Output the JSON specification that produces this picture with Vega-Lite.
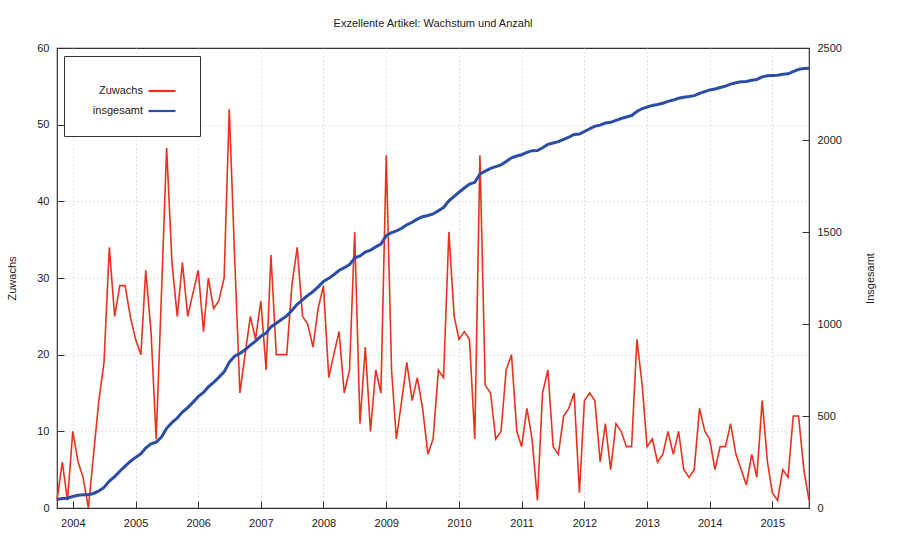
{
  "$schema": "https://vega.github.io/schema/vega-lite/v6.json",
  "width": 752,
  "height": 460,
  "autosize": "none",
  "padding": {"left": 57, "top": 48, "right": 91, "bottom": 32},
  "background": "white",
  "config": {
    "font": "Liberation Sans",
    "view": {"stroke": "#333", "strokeWidth": 1.2},
    "axis": {"labelFontSize": 11, "labelColor": "#222", "titleFontSize": 11, "titleFontWeight": "normal", "titleColor": "#222", "tickColor": "#333", "domain": false}
  },
  "title": {"text": "Exzellente Artikel: Wachstum und Anzahl", "fontSize": 11, "fontWeight": "normal", "color": "#222", "offset": 13, "anchor": "middle"},
  "data": {"values": [
    {"d":"2003-10-01T00:00","z":1,"g":46},{"d":"2003-11-01T00:00","z":6,"g":52},{"d":"2003-12-01T00:00","z":1,"g":53},
    {"d":"2004-01-01T00:00","z":10,"g":63},{"d":"2004-02-01T00:00","z":6,"g":69},{"d":"2004-03-01T00:00","z":4,"g":72},{"d":"2004-04-01T00:00","z":0,"g":72},{"d":"2004-05-01T00:00","z":7,"g":79},{"d":"2004-06-01T00:00","z":14,"g":93},{"d":"2004-07-01T00:00","z":19,"g":112},{"d":"2004-08-01T00:00","z":34,"g":146},{"d":"2004-09-01T00:00","z":25,"g":171},{"d":"2004-10-01T00:00","z":29,"g":200},{"d":"2004-11-01T00:00","z":29,"g":228},{"d":"2004-12-01T00:00","z":25,"g":253},
    {"d":"2005-01-01T00:00","z":22,"g":275},{"d":"2005-02-01T00:00","z":20,"g":295},{"d":"2005-03-01T00:00","z":31,"g":326},{"d":"2005-04-01T00:00","z":23,"g":349},{"d":"2005-05-01T00:00","z":9,"g":358},{"d":"2005-06-01T00:00","z":28,"g":386},{"d":"2005-07-01T00:00","z":47,"g":433},{"d":"2005-08-01T00:00","z":32,"g":464},{"d":"2005-09-01T00:00","z":25,"g":489},{"d":"2005-10-01T00:00","z":32,"g":521},{"d":"2005-11-01T00:00","z":25,"g":546},{"d":"2005-12-01T00:00","z":28,"g":574},
    {"d":"2006-01-01T00:00","z":31,"g":605},{"d":"2006-02-01T00:00","z":23,"g":628},{"d":"2006-03-01T00:00","z":30,"g":658},{"d":"2006-04-01T00:00","z":26,"g":683},{"d":"2006-05-01T00:00","z":27,"g":710},{"d":"2006-06-01T00:00","z":30,"g":740},{"d":"2006-07-01T00:00","z":52,"g":792},{"d":"2006-08-01T00:00","z":33,"g":825},{"d":"2006-09-01T00:00","z":15,"g":840},{"d":"2006-10-01T00:00","z":20,"g":860},{"d":"2006-11-01T00:00","z":25,"g":885},{"d":"2006-12-01T00:00","z":22,"g":907},
    {"d":"2007-01-01T00:00","z":27,"g":933},{"d":"2007-02-01T00:00","z":18,"g":951},{"d":"2007-03-01T00:00","z":33,"g":984},{"d":"2007-04-01T00:00","z":20,"g":1004},{"d":"2007-05-01T00:00","z":20,"g":1024},{"d":"2007-06-01T00:00","z":20,"g":1044},{"d":"2007-07-01T00:00","z":29,"g":1073},{"d":"2007-08-01T00:00","z":34,"g":1107},{"d":"2007-09-01T00:00","z":25,"g":1131},{"d":"2007-10-01T00:00","z":24,"g":1155},{"d":"2007-11-01T00:00","z":21,"g":1176},{"d":"2007-12-01T00:00","z":26,"g":1202},
    {"d":"2008-01-01T00:00","z":29,"g":1231},{"d":"2008-02-01T00:00","z":17,"g":1248},{"d":"2008-03-01T00:00","z":20,"g":1268},{"d":"2008-04-01T00:00","z":23,"g":1291},{"d":"2008-05-01T00:00","z":15,"g":1306},{"d":"2008-06-01T00:00","z":18,"g":1323},{"d":"2008-07-01T00:00","z":36,"g":1359},{"d":"2008-08-01T00:00","z":11,"g":1370},{"d":"2008-09-01T00:00","z":21,"g":1391},{"d":"2008-10-01T00:00","z":10,"g":1401},{"d":"2008-11-01T00:00","z":18,"g":1419},{"d":"2008-12-01T00:00","z":15,"g":1434},
    {"d":"2009-01-01T00:00","z":46,"g":1480},{"d":"2009-02-01T00:00","z":18,"g":1497},{"d":"2009-03-01T00:00","z":9,"g":1506},{"d":"2009-04-01T00:00","z":14,"g":1520},{"d":"2009-05-01T00:00","z":19,"g":1539},{"d":"2009-06-01T00:00","z":14,"g":1553},{"d":"2009-07-01T00:00","z":17,"g":1570},{"d":"2009-08-01T00:00","z":13,"g":1583},{"d":"2009-09-01T00:00","z":7,"g":1590},{"d":"2009-10-01T00:00","z":9,"g":1598},{"d":"2009-11-01T00:00","z":18,"g":1616},{"d":"2009-12-01T00:00","z":17,"g":1633},
    {"d":"2010-01-01T00:00","z":36,"g":1669},{"d":"2010-02-01T00:00","z":25,"g":1694},{"d":"2010-03-01T00:00","z":22,"g":1716},{"d":"2010-04-01T00:00","z":23,"g":1739},{"d":"2010-05-01T00:00","z":22,"g":1761},{"d":"2010-06-01T00:00","z":9,"g":1770},{"d":"2010-07-01T00:00","z":46,"g":1815},{"d":"2010-08-01T00:00","z":16,"g":1831},{"d":"2010-09-01T00:00","z":15,"g":1846},{"d":"2010-10-01T00:00","z":9,"g":1855},{"d":"2010-11-01T00:00","z":10,"g":1865},{"d":"2010-12-01T00:00","z":18,"g":1883},
    {"d":"2011-01-01T00:00","z":20,"g":1903},{"d":"2011-02-01T00:00","z":10,"g":1913},{"d":"2011-03-01T00:00","z":8,"g":1920},{"d":"2011-04-01T00:00","z":13,"g":1933},{"d":"2011-05-01T00:00","z":9,"g":1942},{"d":"2011-06-01T00:00","z":1,"g":1943},{"d":"2011-07-01T00:00","z":15,"g":1958},{"d":"2011-08-01T00:00","z":18,"g":1976},{"d":"2011-09-01T00:00","z":8,"g":1984},{"d":"2011-10-01T00:00","z":7,"g":1991},{"d":"2011-11-01T00:00","z":12,"g":2003},{"d":"2011-12-01T00:00","z":13,"g":2015},
    {"d":"2012-01-01T00:00","z":15,"g":2030},{"d":"2012-02-01T00:00","z":2,"g":2032},{"d":"2012-03-01T00:00","z":14,"g":2046},{"d":"2012-04-01T00:00","z":15,"g":2061},{"d":"2012-05-01T00:00","z":14,"g":2075},{"d":"2012-06-01T00:00","z":6,"g":2081},{"d":"2012-07-01T00:00","z":11,"g":2092},{"d":"2012-08-01T00:00","z":5,"g":2096},{"d":"2012-09-01T00:00","z":11,"g":2107},{"d":"2012-10-01T00:00","z":10,"g":2117},{"d":"2012-11-01T00:00","z":8,"g":2125},{"d":"2012-12-01T00:00","z":8,"g":2133},
    {"d":"2013-01-01T00:00","z":22,"g":2155},{"d":"2013-02-01T00:00","z":16,"g":2171},{"d":"2013-03-01T00:00","z":8,"g":2179},{"d":"2013-04-01T00:00","z":9,"g":2188},{"d":"2013-05-01T00:00","z":6,"g":2193},{"d":"2013-06-01T00:00","z":7,"g":2200},{"d":"2013-07-01T00:00","z":10,"g":2210},{"d":"2013-08-01T00:00","z":7,"g":2217},{"d":"2013-09-01T00:00","z":10,"g":2227},{"d":"2013-10-01T00:00","z":5,"g":2232},{"d":"2013-11-01T00:00","z":4,"g":2236},{"d":"2013-12-01T00:00","z":5,"g":2241},
    {"d":"2014-01-01T00:00","z":13,"g":2253},{"d":"2014-02-01T00:00","z":10,"g":2263},{"d":"2014-03-01T00:00","z":9,"g":2272},{"d":"2014-04-01T00:00","z":5,"g":2277},{"d":"2014-05-01T00:00","z":8,"g":2285},{"d":"2014-06-01T00:00","z":8,"g":2293},{"d":"2014-07-01T00:00","z":11,"g":2304},{"d":"2014-08-01T00:00","z":7,"g":2311},{"d":"2014-09-01T00:00","z":5,"g":2316},{"d":"2014-10-01T00:00","z":3,"g":2318},{"d":"2014-11-01T00:00","z":7,"g":2325},{"d":"2014-12-01T00:00","z":4,"g":2329},
    {"d":"2015-01-01T00:00","z":14,"g":2343},{"d":"2015-02-01T00:00","z":6,"g":2349},{"d":"2015-03-01T00:00","z":2,"g":2351},{"d":"2015-04-01T00:00","z":1,"g":2352},{"d":"2015-05-01T00:00","z":5,"g":2357},{"d":"2015-06-01T00:00","z":4,"g":2360},{"d":"2015-07-01T00:00","z":12,"g":2372},{"d":"2015-08-01T00:00","z":12,"g":2384},{"d":"2015-09-01T00:00","z":5,"g":2389},{"d":"2015-10-01T00:00","z":1,"g":2390}
  ]},
  "encoding": {
    "x": {
      "field": "d", "type": "temporal",
      "scale": {"domain": [{"year": 2003, "month": 10, "date": 1}, {"year": 2015, "month": 10, "date": 1}]},
      "axis": {
        "title": null, "format": "%Y", "tickSize": -7, "labelPadding": 16,
        "grid": true, "gridDash": [1, 3], "gridColor": "#c8c8c8",
        "values": [
          {"year": 2004, "month": 1, "date": 1}, {"year": 2005, "month": 1, "date": 1}, {"year": 2006, "month": 1, "date": 1},
          {"year": 2007, "month": 1, "date": 1}, {"year": 2008, "month": 1, "date": 1}, {"year": 2009, "month": 1, "date": 1},
          {"year": 2010, "month": 3, "date": 1}, {"year": 2011, "month": 3, "date": 1}, {"year": 2012, "month": 3, "date": 1},
          {"year": 2013, "month": 3, "date": 1}, {"year": 2014, "month": 3, "date": 1}, {"year": 2015, "month": 3, "date": 1}
        ]
      }
    }
  },
  "layer": [
    {
      "mark": {"type": "line", "strokeWidth": 1.6},
      "encoding": {
        "y": {
          "field": "z", "type": "quantitative", "scale": {"domain": [0, 60]},
          "axis": {"title": "Zuwachs", "values": [0, 10, 20, 30, 40, 50, 60], "tickSize": -7, "labelPadding": 15,
                   "grid": true, "gridDash": [1, 3], "gridColor": "#c8c8c8",
                   "gridOpacity": {"condition": {"test": "datum.value == 0 || datum.value == 60", "value": 0}, "value": 1},
                   "titleX": -45, "titleY": 230, "titleAngle": 270, "titleAlign": "center", "titleBaseline": "middle"}
        },
        "color": {
          "datum": "Zuwachs", "type": "nominal",
          "scale": {"domain": ["Zuwachs", "insgesamt"], "range": ["#e8321e", "#2a4ea6"]},
          "legend": {"title": null, "orient": "none", "legendX": 7, "legendY": 8, "strokeColor": "#333", "fillColor": "white",
                     "padding": 20, "rowPadding": 0, "symbolType": "stroke", "symbolSize": 729, "symbolStrokeWidth": 2.2,
                     "symbolOffset": 63,
                     "labelFontSize": 11, "labelColor": "#222", "labelAlign": "right", "labelOffset": -34}
        }
      }
    },
    {
      "mark": {"type": "line", "strokeWidth": 3},
      "encoding": {
        "y": {
          "field": "g", "type": "quantitative", "scale": {"domain": [0, 2500]},
          "axis": {"orient": "right", "title": "Insgesamt", "values": [0, 500, 1000, 1500, 2000, 2500], "format": "d", "tickSize": -7, "labelPadding": 15,
                   "grid": false, "titleX": 61, "titleY": 230, "titleAngle": 270, "titleAlign": "center", "titleBaseline": "middle"}
        },
        "color": {"datum": "insgesamt", "type": "nominal"}
      }
    }
  ],
  "resolve": {"scale": {"y": "independent"}}
}
